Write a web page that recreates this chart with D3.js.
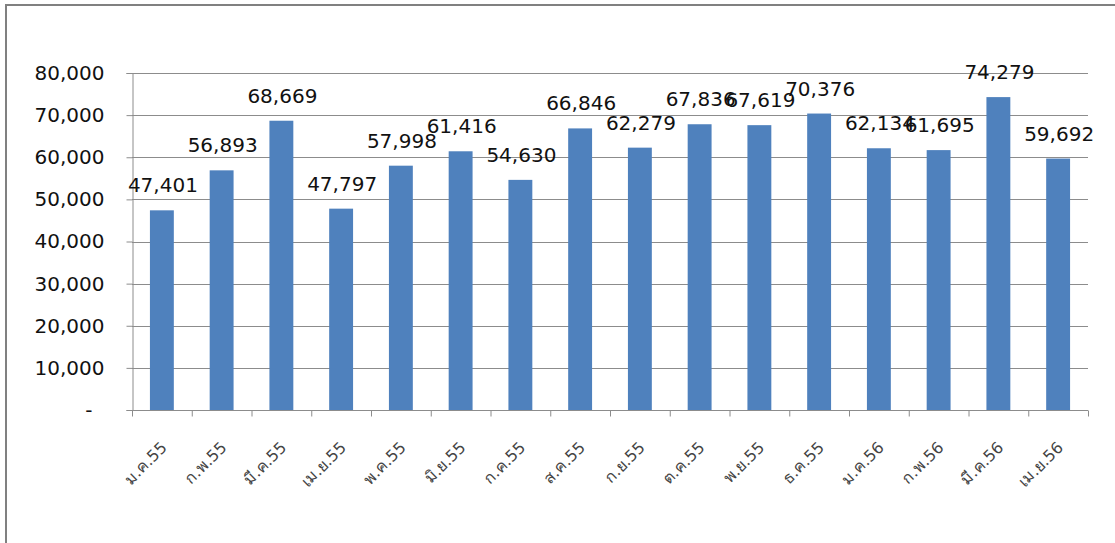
<!DOCTYPE html>
<html><head><meta charset="utf-8">
<script src="https://cdn.jsdelivr.net/npm/d3@7"></script>
<style>body{margin:0;background:#fff}svg{display:block}</style>
</head><body>
<svg id="c" width="1115" height="543"></svg>
<script>
const categories = ["ม.ค.55","ก.พ.55","มี.ค.55","เม.ย.55","พ.ค.55","มิ.ย.55","ก.ค.55","ส.ค.55","ก.ย.55","ต.ค.55","พ.ย.55","ธ.ค.55","ม.ค.56","ก.พ.56","มี.ค.56","เม.ย.56"];
const values = [47401,56893,68669,47797,57998,61416,54630,66846,62279,67836,67619,70376,62134,61695,74279,59692];
const yTicks = [0,10000,20000,30000,40000,50000,60000,70000,80000];

const svg = d3.select("#c");
const L = 132, R = 1088, T = 73, B = 410;
const font = "'DejaVu Sans', sans-serif";

// outer frame
svg.append("line").attr("x1",6).attr("x2",6).attr("y1",5).attr("y2",543).attr("stroke","#808080").attr("stroke-width",2);
svg.append("line").attr("x1",5).attr("x2",1115).attr("y1",5).attr("y2",5).attr("stroke","#808080").attr("stroke-width",2);

const x = d3.scaleBand().domain(categories).range([L,R]).paddingInner(0.6).paddingOuter(0.3);
const xb = d3.scaleBand().domain(categories).range([L,R]).padding(0);
const y = d3.scaleLinear().domain([0,80000]).range([B,T]);

// gridlines
svg.append("g").selectAll("line").data(yTicks.slice(1)).join("line")
  .attr("x1",L).attr("x2",R).attr("y1",d=>Math.round(y(d))+0.5).attr("y2",d=>Math.round(y(d))+0.5)
  .attr("stroke","#8c8c8c").attr("stroke-width",1);

// y axis
const ya = svg.append("g").attr("transform",`translate(${L+0.5},0)`)
  .call(d3.axisLeft(y).tickValues(yTicks).tickSize(6).tickPadding(22)
    .tickFormat(d=> d===0 ? "-" : d3.format(",")(d)));
ya.select(".domain").attr("stroke","#8c8c8c");
ya.selectAll(".tick line").attr("stroke","#8c8c8c");
ya.selectAll(".tick text").attr("font-family",font).attr("font-size",20).attr("fill","#111");
ya.selectAll(".tick").filter(d=>d===0).select("text").attr("dx",-12);

// bars
svg.append("g").selectAll("rect").data(values).join("rect")
  .attr("x",(d,i)=>x(categories[i])).attr("width",x.bandwidth())
  .attr("y",d=>y(d)).attr("height",d=>B-y(d)).attr("fill","#4f81bd");

// x axis
const xa = svg.append("g").attr("transform",`translate(0,${B+0.5})`);
xa.append("line").attr("x1",L).attr("x2",R).attr("stroke","#8c8c8c");
xa.selectAll("line.t").data(categories.concat(["end"])).join("line").attr("class","t")
  .attr("x1",(d,i)=> i<categories.length ? xb(d)+0.5 : R+0.5)
  .attr("x2",(d,i)=> i<categories.length ? xb(d)+0.5 : R+0.5)
  .attr("y1",0).attr("y2",6).attr("stroke","#8c8c8c");
xa.selectAll("text").data(categories).join("text")
  .attr("transform",d=>`translate(${x(d)+x.bandwidth()/2+6},${38}) rotate(-45)`)
  .attr("text-anchor","end").attr("font-family",font).attr("font-size",16).attr("fill","#444")
  .text(d=>d);

// data labels
svg.append("g").selectAll("text").data(values).join("text")
  .attr("x",(d,i)=>x(categories[i])+x.bandwidth()/2+1).attr("y",d=>y(d)-18)
  .attr("text-anchor","middle").attr("font-family",font).attr("font-size",20).attr("fill","#111")
  .text(d=>d3.format(",")(d));
</script>
</body></html>
